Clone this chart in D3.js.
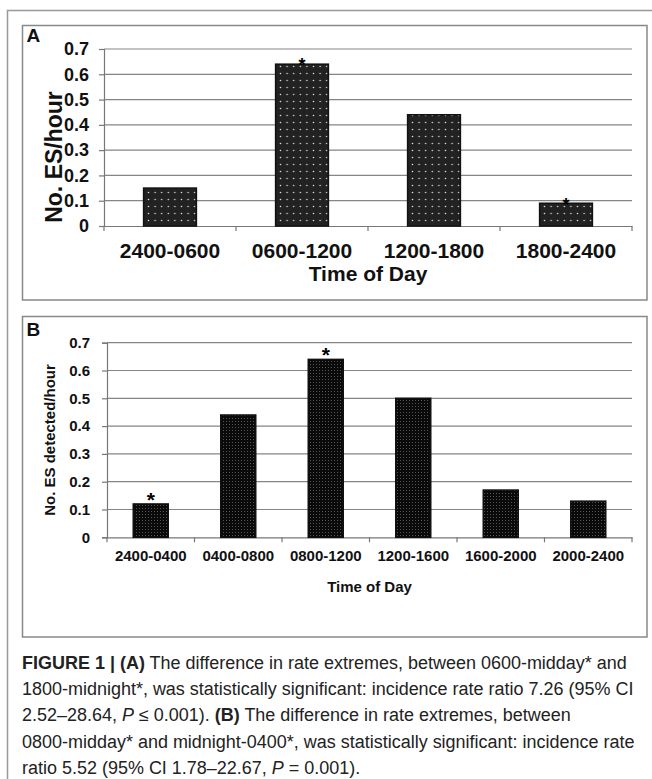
<!DOCTYPE html>
<html><head><meta charset="utf-8">
<script src="https://cdn.jsdelivr.net/npm/d3@7"></script>
<style>body{margin:0;background:#fff} svg{display:block}</style>
</head><body>
<script>
// ---- data ----
const catsA = ["2400-0600","0600-1200","1200-1800","1800-2400"];
const valsA = [0.15,0.64,0.44,0.09];
const starA = [false,true,false,true];
const catsB = ["2400-0400","0400-0800","0800-1200","1200-1600","1600-2000","2000-2400"];
const valsB = [0.12,0.44,0.64,0.50,0.17,0.13];
const starB = [true,false,true,false,false,false];
const yTicks = [0,0.1,0.2,0.3,0.4,0.5,0.6,0.7];
const yTickLabels = ["0","0.1","0.2","0.3","0.4","0.5","0.6","0.7"];

const W = 652, H = 779;
const svg = d3.select("body").append("svg").attr("width",W).attr("height",H);
const defs = svg.append("defs");
// pattern A: dark with white dots
const pA = defs.append("pattern").attr("id","patA").attr("patternUnits","userSpaceOnUse")
  .attr("width",6.6).attr("height",7);
pA.append("rect").attr("width",6.6).attr("height",7).attr("fill","#222");
pA.append("circle").attr("cx",3.3).attr("cy",3.5).attr("r",0.8).attr("fill","#ddd");
// pattern B: black with fine grey dots
const pB = defs.append("pattern").attr("id","patB").attr("patternUnits","userSpaceOnUse")
  .attr("width",3).attr("height",3);
pB.append("rect").attr("width",3).attr("height",3).attr("fill","#0a0a0a");
pB.append("rect").attr("x",1).attr("y",1).attr("width",1).attr("height",1).attr("fill","#555");

const FF = "Liberation Sans, Arial, Helvetica, sans-serif";

// outer frame
svg.append("path").attr("d","M7.5,779 V10.5 H652").attr("fill","none").attr("stroke","#999").attr("stroke-width",1.5);

function panel(o){
  const g = svg.append("g");
  g.append("rect").attr("x",o.box[0]).attr("y",o.box[1]).attr("width",o.box[2]-o.box[0]).attr("height",o.box[3]-o.box[1])
    .attr("fill","#fff").attr("stroke","#888").attr("stroke-width",1.5);
  g.append("text").attr("x",o.box[0]+4).attr("y",o.letterY).text(o.letter)
    .attr("font-family",FF).attr("font-weight","bold").attr("font-size",19).attr("fill","#111");
  const x = d3.scaleBand().domain(o.cats).range([o.x0,o.x1]).paddingInner(0.6).paddingOuter(0.3);
  const xb = d3.scaleBand().domain(o.cats).range([o.x0,o.x1]);
  const y = d3.scaleLinear().domain([0,0.7]).range([o.yb,o.yt]);
  // grid
  g.selectAll(".grid").data(yTicks.slice(1)).join("line")
    .attr("x1",o.x0).attr("x2",o.x1).attr("y1",d=>y(d)).attr("y2",d=>y(d))
    .attr("stroke","#858585").attr("stroke-width",1.2);
  // y axis
  const ya = g.append("g").attr("transform",`translate(${o.x0},0)`)
    .call(d3.axisLeft(y).tickValues(yTicks).tickFormat((d,i)=>yTickLabels[i]).tickSize(5).tickPadding(o.tickPad));
  ya.select(".domain").attr("stroke","#777").attr("stroke-width",1.2);
  ya.selectAll(".tick line").attr("stroke","#777").attr("stroke-width",1.2);
  ya.selectAll(".tick text").attr("font-family",FF).attr("font-weight","bold").attr("font-size",o.yfs).attr("fill","#111");
  // x axis
  const xa = g.append("g").attr("transform",`translate(0,${o.yb})`)
    .call(d3.axisBottom(xb).tickSize(0).tickFormat(""));
  xa.select(".domain").attr("stroke","#777").attr("stroke-width",1.2);
  // boundary ticks
  const bounds = o.cats.map(c=>xb(c)).concat([o.x1]);
  g.selectAll(".bt").data(bounds).join("line").attr("x1",d=>d).attr("x2",d=>d)
    .attr("y1",o.yb).attr("y2",o.yb+5).attr("stroke","#777").attr("stroke-width",1.2);
  // bars
  g.selectAll(".bar").data(o.vals).join("rect")
    .attr("x",(d,i)=>x(o.cats[i])).attr("width",x.bandwidth())
    .attr("y",d=>y(d)).attr("height",d=>y(0)-y(d))
    .attr("fill",`url(#${o.pat})`).attr("stroke","#111").attr("stroke-width",1.5);
  // stars
  g.selectAll(".star").data(o.vals.map((v,i)=>({v,i})).filter(d=>o.stars[d.i])).join("text")
    .attr("x",d=>x(o.cats[d.i])+x.bandwidth()/2)
    .attr("y",d=>y(d.v)-o.starGap+0.57*o.starFs)
    .attr("text-anchor","middle").text("*")
    .attr("font-family",FF).attr("font-weight",o.starW).attr("font-size",o.starFs).attr("fill","#000");
  // x labels
  g.selectAll(".xl").data(o.cats).join("text")
    .attr("x",d=>xb(d)+xb.bandwidth()/2).attr("y",o.xlY).attr("text-anchor","middle").text(d=>d)
    .attr("font-family",FF).attr("font-weight","bold").attr("font-size",o.xfs).attr("fill","#111");
  g.append("text").attr("x",(o.x0+o.x1)/2).attr("y",o.xtY).attr("text-anchor","middle").text("Time of Day")
    .attr("font-family",FF).attr("font-weight","bold").attr("font-size",o.xtfs).attr("fill","#111");
  g.append("text").attr("transform",`translate(${o.ytX},${o.ytY}) rotate(-90)`).attr("text-anchor","middle")
    .text(o.ytitle).attr("font-family",FF).attr("font-weight","bold").attr("font-size",o.ytfs).attr("fill","#111");
}

panel({box:[22.5,25.5,647,300],letter:"A",letterY:42,cats:catsA,vals:valsA,stars:starA,
  x0:104,x1:632,yt:49,yb:226,tickPad:10,yfs:18,pat:"patA",starGap:3,starFs:18,starW:"bold",
  xlY:258,xfs:21,xtY:281,xtfs:21,ytX:62,ytY:157,ytitle:"No. ES/hour",ytfs:23});
panel({box:[22.5,316.5,647,637],letter:"B",letterY:336,cats:catsB,vals:valsB,stars:starB,
  x0:107,x1:632,yt:342.7,yb:537.3,tickPad:12,yfs:15,pat:"patB",starGap:9,starFs:21,starW:"bold",
  xlY:561,xfs:15,xtY:592,xtfs:15,ytX:55,ytY:440,ytitle:"No. ES detected/hour",ytfs:15});

// caption
const capLines = [
  [["FIGURE 1 | (A)","b"],[" The difference in rate extremes, between 0600-midday* and","n"]],
  [["1800-midnight*, was statistically significant: incidence rate ratio 7.26 (95% CI","n"]],
  [["2.52–28.64, ","n"],["P","i"],[" ≤ 0.001). ","n"],["(B)","b"],[" The difference in rate extremes, between","n"]],
  [["0800-midday* and midnight-0400*, was statistically significant: incidence rate","n"]],
  [["ratio 5.52 (95% CI 1.78–22.67, ","n"],["P","i"],[" = 0.001).","n"]]
];
const capY = [669,695.2,721.4,747.6,773.8];
const capFs = 18;
const cap = svg.append("g").attr("font-family",FF).attr("fill","#222").attr("font-size",capFs);
const texts = capLines.map((ln,i)=>{
  const t = cap.append("text").attr("x",0).attr("y",capY[i]);
  ln.forEach(([s,st])=>{
    const ts = t.append("tspan").text(s);
    if(st==="b") ts.attr("font-weight","bold");
    if(st==="i") ts.attr("font-style","italic");
  });
  return t;
});
// condense horizontally so line 1 spans the reference width (~605px)
const w0 = texts[0].node().getComputedTextLength();
cap.attr("transform",`translate(22,0) scale(${605/w0},1)`);
</script>
</body></html>
